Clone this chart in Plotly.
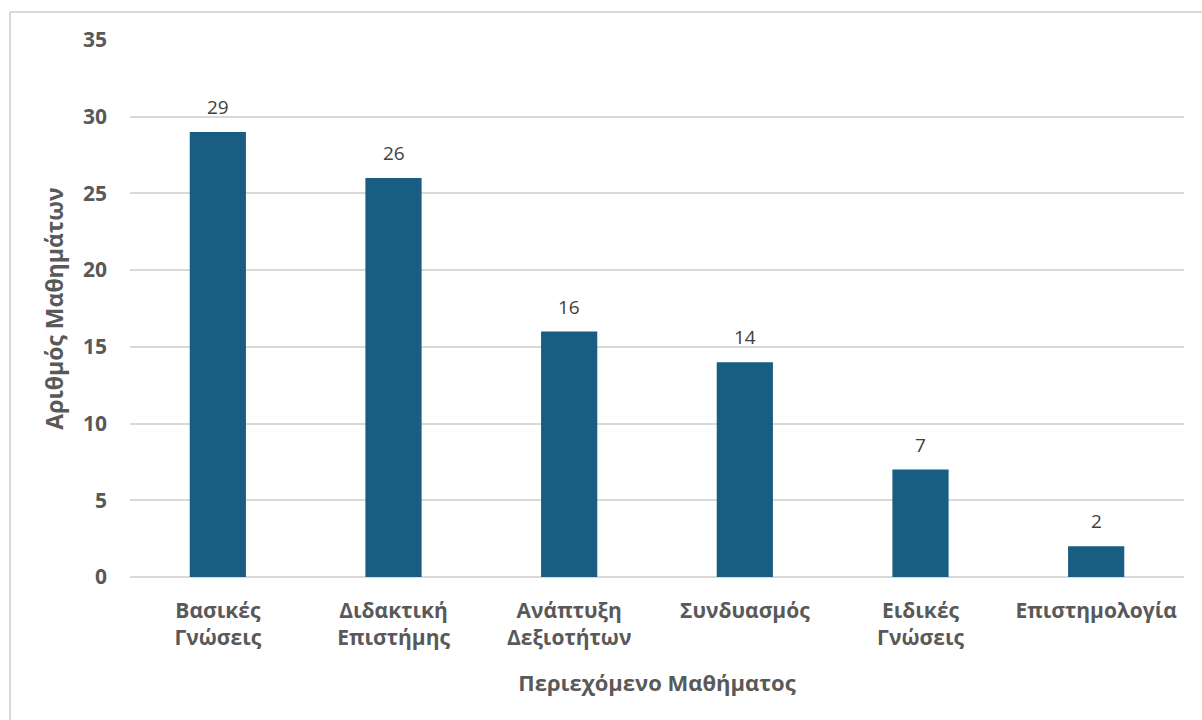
import plotly.graph_objects as go

categories = ["Βασικές<br>Γνώσεις", "Διδακτική<br>Επιστήμης", "Ανάπτυξη<br>Δεξιοτήτων",
              "Συνδυασμός", "Ειδικές<br>Γνώσεις", "Επιστημολογία"]
values = [29, 26, 16, 14, 7, 2]
y_ticks = [0, 5, 10, 15, 20, 25, 30, 35]

FONT = "Open Sans"
GRAY = "#595959"

fig = go.Figure(go.Bar(
    x=categories, y=values,
    marker=dict(color="#175E82", line=dict(width=0)),
    cliponaxis=False,
))

for c, v in zip(categories, values):
    fig.add_annotation(x=c, y=v, text=str(v), showarrow=False, yanchor="bottom",
                       yshift=10, font=dict(family=FONT, size=19, color="#404040"))

fig.update_layout(
    width=1202, height=720,
    margin=dict(l=130, r=18, t=40, b=143),
    paper_bgcolor="white", plot_bgcolor="white",
    bargap=0.68,
    showlegend=False,
    xaxis=dict(
        title=dict(text="Περιεχόμενο Μαθήματος",
                   font=dict(family=FONT, size=22, color=GRAY, weight="bold"), standoff=25),
        tickfont=dict(family=FONT, size=21, color=GRAY, weight="bold"),
        showgrid=False, showline=False, ticks="", ticklabelstandoff=19,
    ),
    yaxis=dict(
        title=dict(text="Αριθμός Μαθημάτων",
                   font=dict(family=FONT, size=23, color=GRAY, weight="bold"), standoff=12),
        tickfont=dict(family=FONT, size=21, color=GRAY, weight="bold"),
        range=[0, 35], tickvals=y_ticks,
        showgrid=True, gridcolor="#D9D9D9", gridwidth=1.5,
        zeroline=True, zerolinecolor="#D9D9D9", zerolinewidth=1.5,
        ticks="", ticklabelstandoff=22,
    ),
)

# light chart-area border (left and top edges visible)
fig.add_shape(type="line", xref="paper", yref="paper",
              x0=-120/1054, x1=1.05, y0=1 + 28/537, y1=1 + 28/537,
              line=dict(color="#D9D9D9", width=2))
fig.add_shape(type="line", xref="paper", yref="paper",
              x0=-120/1054, x1=-120/1054, y0=1 + 28/537, y1=-0.3,
              line=dict(color="#D9D9D9", width=2))

fig.write_html("out.html")
